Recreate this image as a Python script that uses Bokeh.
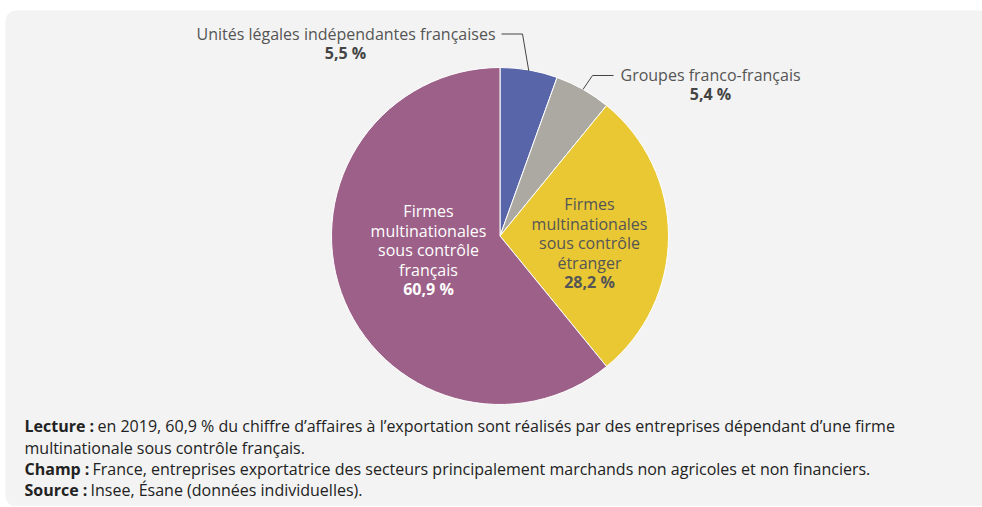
import math
from bokeh.plotting import figure
from bokeh.models import Range1d, ColumnDataSource, Quad
from bokeh.core.properties import value
from bokeh.embed import file_html
from bokeh.resources import INLINE

# ---- data ----
categories = ["Unités légales indépendantes françaises",
              "Groupes franco-français",
              "Firmes multinationales sous contrôle étranger",
              "Firmes multinationales sous contrôle français"]
shares = [5.5, 5.4, 28.2, 60.9]
share_labels = ["5,5 %", "5,4 %", "28,2 %", "60,9 %"]
colors = ["#5865a8", "#aca9a3", "#e9c834", "#9d6088"]

notes_bold = ["Lecture :", "", "Champ :", "Source :"]
notes_text = ["en 2019, 60,9 % du chiffre d’affaires à l’exportation sont réalisés par des entreprises dépendant d’une firme",
              "multinationale sous contrôle français.",
              "France, entreprises exportatrice des secteurs principalement marchands non agricoles et non financiers.",
              "Insee, Ésane (données individuelles)."]

# ---- layout helpers (screen pixel -> data) ----
W, H = 982, 506
OX, OY = 0, 0
def X(sx):
    return sx - OX
def Y(sy):
    return H - (sy - OY)

FONT = value("Open Sans")
TXT = "#555555"
FS = "16px"

p = figure(width=W, height=H, x_range=Range1d(0, W), y_range=Range1d(0, H),
           output_backend="svg", toolbar_location=None, min_border=0)
p.axis.visible = False
p.grid.visible = False
p.outline_line_color = None
p.background_fill_color = "white"
p.border_fill_color = "white"

# panel
panel_kw = dict(left=X(5), right=X(995), top=Y(10), bottom=Y(506), fill_color="#f3f3f3", line_color=None)
if "border_radius" in Quad.properties():
    panel_kw["border_radius"] = 10
p.quad(**panel_kw)

# ---- pie ----
CX, CY, R = 499.5, 235.5, 168.5
total = sum(shares)
starts, ends, mids = [], [], []
cum = 0.0
for s in shares:
    a0 = math.pi / 2 - 2 * math.pi * cum / total
    cum += s
    a1 = math.pi / 2 - 2 * math.pi * cum / total
    starts.append(a0)
    ends.append(a1)
    mids.append((a0 + a1) / 2)

src = ColumnDataSource(dict(start=starts, end=ends, color=colors, cat=categories))
p.wedge(x=X(CX), y=Y(CY), radius=R, start_angle="start", end_angle="end",
        direction="clock", fill_color="color", line_color="white", line_width=1, source=src)

# ---- leader lines ----
def edge(i, extra=0.0):
    a = mids[i]
    return X(CX) + (R + extra) * math.cos(a), Y(CY) + (R + extra) * math.sin(a)

ex, ey = edge(0, -1)
p.line([X(501), X(522), ex], [Y(33.5), Y(33.5), ey], line_color="#444444", line_width=1)
ex, ey = edge(1, 0)
p.line([X(613), X(592), ex], [Y(75), Y(75), ey], line_color="#444444", line_width=1)

# ---- outside labels ----
p.text(x=[X(495)], y=[Y(33)], text=[categories[0]], text_font=FONT, text_font_size=FS,
       text_color=TXT, text_align="right", text_baseline="middle")
p.text(x=[X(345)], y=[Y(52.5)], text=[share_labels[0]], text_font=FONT, text_font_size=FS,
       text_font_style="bold", text_color="#444444", text_align="center", text_baseline="middle")
p.text(x=[X(620)], y=[Y(74)], text=[categories[1]], text_font=FONT, text_font_size=FS,
       text_color=TXT, text_align="left", text_baseline="middle")
p.text(x=[X(710)], y=[Y(93.5)], text=[share_labels[1]], text_font=FONT, text_font_size=FS,
       text_font_style="bold", text_color="#444444", text_align="center", text_baseline="middle")

# ---- inside labels ----
def block(lines, bold, cx, y0, color, step=19.5):
    for k, ln in enumerate(lines):
        p.text(x=[X(cx)], y=[Y(y0 + k * step)], text=[ln], text_font=FONT, text_font_size=FS,
               text_color=color, text_align="center", text_baseline="middle")
    p.text(x=[X(cx)], y=[Y(y0 + len(lines) * step)], text=[bold], text_font=FONT,
           text_font_size=FS, text_font_style="bold", text_color=color,
           text_align="center", text_baseline="middle")

block(["Firmes", "multinationales", "sous contrôle", "étranger"], share_labels[2], 589, 203.5, "#555555")
block(["Firmes", "multinationales", "sous contrôle", "français"], share_labels[3], 428, 210.5, "#ffffff")

# ---- notes ----
note_y = [425.5, 447, 468.5, 489.5]
note_x = [97, 24, 92, 90]
for b, t, yy, xx in zip(notes_bold, notes_text, note_y, note_x):
    if b:
        p.text(x=[X(24)], y=[Y(yy)], text=[b], text_font=FONT, text_font_size=FS,
               text_font_style="bold", text_color="#222222", text_align="left", text_baseline="middle")
    p.text(x=[X(xx)], y=[Y(yy)], text=[t], text_font=FONT, text_font_size=FS,
           text_color="#222222", text_align="left", text_baseline="middle")

open("out.html", "w").write(file_html(p, INLINE))
